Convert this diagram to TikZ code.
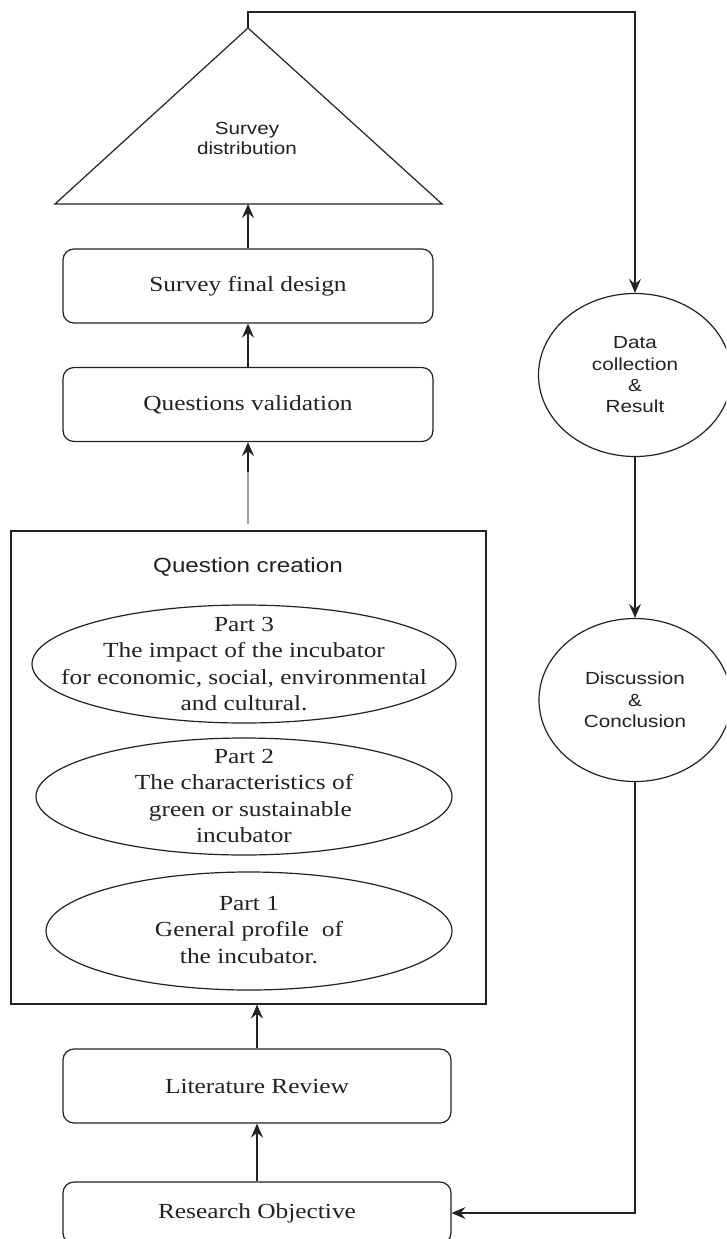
\documentclass[tikz,border=0pt]{standalone}
\usepackage{fontspec}
\setmainfont{Liberation Serif}[FakeStretch=1.18]
\newfontfamily\sansf{Liberation Sans}[FakeStretch=1.18]
\usetikzlibrary{arrows.meta,shapes.geometric,calc}
\definecolor{ink}{HTML}{222222}
\definecolor{txt}{HTML}{222222}
\begin{document}
\begin{tikzpicture}[x=1pt,y=-1pt,
  line/.style={draw=ink, line width=1.2pt},
  arr/.style={line, -{Stealth[length=14pt,width=12pt,inset=5pt]}},
  rbox/.style={line, rounded corners=11pt, minimum width=370pt, minimum height=74pt, inner sep=0pt, text=txt, font=\fontsize{21.5}{26}\selectfont},
  etext/.style={align=center, inner sep=0pt, text=txt, font=\fontsize{21.5}{26.5}\selectfont},
  circ/.style={line, ellipse, inner sep=0pt, align=center, text=txt, font=\sansf\fontsize{17.5}{21.3}\selectfont, minimum width=193pt, minimum height=163pt},
  lbl/.style={align=center, inner sep=0pt, text=txt}
]
\useasboundingbox (0,0) rectangle (726,1239);
\clip (0,0) rectangle (726,1239);
\fill[white] (0,0) rectangle (726,1239);

% triangle
\coordinate (apex) at (248,28);
\coordinate (bl) at (55,204);
\coordinate (br) at (442,204);
\coordinate (bm) at (248,204);
\coordinate (top) at (248,12);
\draw[line, line join=miter] (apex) -- (bl) -- (br) -- cycle;
\node[lbl, font=\sansf\fontsize{17.5}{20}\selectfont] (sd) at (247,138) {Survey\\distribution};

% boxes
\node[rbox] (sfd) at (248,286) {Survey final design};
\node[rbox] (qv) at (248,404.5) {Questions validation};
\node[line, minimum width=475pt, minimum height=473pt, inner sep=0pt] (qc) at (248.5,767.5) {};
\node[lbl, font=\sansf\fontsize{20.5}{24}\selectfont] (qct) at (248,567) {Question creation};

% ellipses in the question creation box
\draw[line] (244,664) ellipse [x radius=212, y radius=59];
\node[etext] (p3) at (244,664) {Part 3\\The impact of the incubator\\for economic, social, environmental\\and cultural.};
\draw[line] (244,796.5) ellipse [x radius=208, y radius=58.5];
\node[etext] (p2) at (244,796) {Part 2\\The characteristics of\\\ \ green or sustainable\\incubator};
\draw[line] (249,931) ellipse [x radius=203, y radius=59];
\node[etext] (p1) at (249,930) {Part 1\\General profile\ \ of\\the incubator.};

\node[rbox, minimum width=388pt] (lr) at (257,1086) {Literature Review};
\node[rbox, minimum width=388pt, minimum height=62pt] (ro) at (257,1213) {Research Objective};

% circles
\node[circ] (dc) at (635,375) {Data\\collection\\\&\\Result};
\node[circ, minimum width=192pt] (dis) at (635,700) {Discussion\\\&\\Conclusion};

% connectors
\draw[arr] (sfd.north) -- (bm);
\draw[arr] (qv.north) -- (sfd.south);
\coordinate (g1) at (248,524);
\coordinate (g2) at (248,472);
\draw[line, draw=gray!75] (g1) -- (g2);
\draw[arr] (g2) -- (qv.south);
\draw[arr] (lr.north) -- (lr.north |- qc.south);
\draw[arr] (ro.north) -- (lr.south);
\draw[arr, rounded corners=0pt] (apex) -- (top) -| (dc.north);
\draw[arr] (dc.south) -- (dis.north);
\draw[arr] (dis.south) |- (ro.east);
\end{tikzpicture}
\end{document}
